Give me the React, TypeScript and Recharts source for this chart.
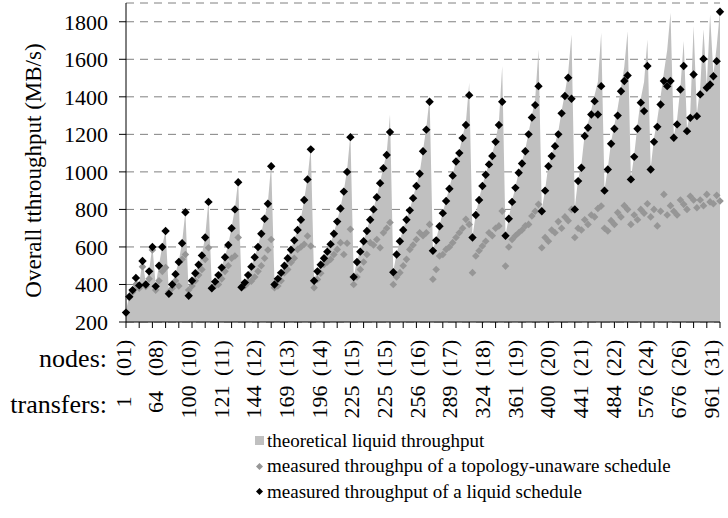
import React from "react";
import { ComposedChart, Area, Line, XAxis, YAxis, CartesianGrid } from "recharts";

const FONT = "Liberation Serif, Tinos, Times New Roman, DejaVu Serif, serif";

// one label every 10 categories
const nodeLabels = [
  "(01)", "(08)", "(10)", "(11)", "(12)", "(13)", "(14)", "(15)", "(15)", "(16)",
  "(17)", "(18)", "(19)", "(20)", "(21)", "(22)", "(24)", "(26)", "(31)",
];
const transferLabels = [
  "1", "64", "100", "121", "144", "169", "196", "225", "225", "256",
  "289", "324", "361", "400", "441", "484", "576", "676", "961",
];

const theoretical = [
  260, 340, 375, 440, 400, 530, 405, 475, 605, 395, 505, 605, 690,
  355, 405, 460, 525, 625, 790, 345, 425, 465, 510, 560, 655, 850,
  385, 420, 455, 495, 550, 615, 705, 805, 955,
  390, 415, 455, 500, 550, 605, 675, 755, 840, 1040,
  405, 435, 467, 505, 545, 590, 640, 695, 750, 855, 965, 1130,
  425, 475, 510, 545, 580, 620, 675, 740, 810, 900, 1010, 1200,
  445, 525, 580, 635, 690, 750, 805, 870, 945, 1025, 1100, 1306,
  470, 565, 635, 695, 750, 800, 865, 930, 995, 1115, 1235, 1395,
  585, 640, 715, 785, 850, 915, 985, 1060, 1110, 1190, 1265, 1475,
  655, 775, 855, 930, 990, 1045, 1095, 1170, 1265, 1564,
  665, 755, 845, 920, 1000, 1055, 1120, 1210, 1300, 1390, 1652,
  800, 905, 1035, 1095, 1150, 1215, 1325, 1420, 1530, 1732,
  810, 960, 1040, 1200, 1260, 1330, 1410, 1480, 1741,
  905, 1020, 1160, 1250, 1340, 1450, 1560, 1750,
  965, 1090, 1250, 1390, 1480, 1706,
  1020, 1180, 1280, 1400, 1530, 1650, 1848,
  1190, 1280, 1450, 1697,
  1230, 1320, 1777,
  1310, 1450, 1760,
  1460, 1840,
  1520, 1670, 1860,
];

const unaware = [
  250, 330, 360, 400, 380, 495, 390, 430, 584, 370, 420, 470, 490,
  360, 380, 420, 392, 534, 560, 370, 392, 420, 450, 480, 534, 596,
  380, 392, 400, 430, 470, 500, 540, 552, 650,
  385, 392, 410, 418, 440, 470, 500, 540, 584, 640,
  383, 392, 420, 463, 480, 517, 540, 587, 600, 614, 658, 605,
  383, 427, 460, 507, 520, 534, 560, 587, 623, 560, 620, 694,
  400, 440, 480, 520, 560, 623, 610, 640, 596, 676, 700, 730,
  400, 440, 463, 500, 534, 587, 610, 640, 676, 660, 676, 720,
  428, 480, 552, 560, 587, 600, 623, 650, 676, 700, 747, 720,
  463, 552, 580, 605, 630, 676, 660, 700, 712, 791,
  498, 600, 640, 660, 676, 690, 712, 720, 765, 790, 827,
  596, 650, 630, 690, 676, 735, 700, 760, 740, 800,
  650, 700, 690, 745, 720, 770, 760, 805, 818,
  700, 685, 740, 720, 783, 760, 820, 800,
  720, 770, 745, 800, 780, 830,
  760, 800, 712, 790, 880, 770, 820,
  790, 770, 850, 827,
  800, 870, 850,
  809, 850, 820,
  880, 840,
  830, 875, 845,
];

const liquid = [
  250, 335, 370, 435, 395, 525, 400, 470, 600, 390, 500, 600, 685,
  350, 400, 455, 520, 620, 785, 340, 420, 460, 505, 555, 650, 840,
  380, 415, 450, 490, 545, 610, 700, 800, 945,
  385, 410, 450, 495, 545, 600, 670, 750, 830, 1030,
  400, 430, 462, 500, 540, 585, 635, 690, 745, 850, 960, 1120,
  420, 470, 505, 540, 575, 615, 670, 735, 805, 895, 1000, 1185,
  440, 520, 575, 630, 685, 745, 800, 865, 940, 1020, 1090, 1212,
  465, 560, 630, 690, 745, 795, 860, 925, 990, 1110, 1225, 1374,
  580, 635, 710, 780, 845, 910, 980, 1055, 1100, 1180, 1250, 1409,
  650, 770, 850, 925, 985, 1040, 1085, 1160, 1250, 1374,
  660, 750, 840, 915, 995, 1045, 1110, 1200, 1290, 1356, 1457,
  790, 900, 1030, 1084, 1137, 1200, 1312, 1404, 1502, 1390,
  800, 951, 1022, 1191, 1235, 1306, 1377, 1306, 1457,
  900, 1013, 1150, 1230, 1300, 1430, 1484, 1514,
  960, 1080, 1230, 1369, 1324, 1564,
  1013, 1160, 1240, 1359, 1484, 1457, 1484,
  1182, 1253, 1439, 1564,
  1217, 1288, 1519,
  1297, 1413, 1602,
  1448, 1466,
  1510, 1590, 1853,
];

const data = theoretical.map((t, i) => ({
  i,
  theoretical: t,
  unaware: unaware[i],
  liquid: liquid[i],
}));

const lastIndex = data.length - 1;
const xTicks: number[] = [];
for (let i = 0; i <= lastIndex; i++) {
  if (i % 4 === 0 || i % 10 === 0) xTicks.push(i);
}

function diamond(color: string, r: number) {
  return (props: any) => {
    const { cx, cy, index } = props;
    if (cx == null || cy == null) return <g key={index} />;
    return (
      <path
        key={index}
        d={`M${cx},${cy - r}L${cx + r},${cy}L${cx},${cy + r}L${cx - r},${cy}Z`}
        fill={color}
      />
    );
  };
}

function CategoryTick(props: any) {
  const { x, y, payload } = props;
  const v = payload.value;
  const k = v / 10;
  // labels sit slightly left of their category, more so towards the right end
  const lx = x - 2 - (6 * v) / lastIndex;
  const txt = { fontFamily: FONT, fontSize: 22, fill: "#000" };
  return (
    <g>
      {v % 4 === 0 && <line x1={x} x2={x} y1={y} y2={y + 6} stroke="#000" />}
      {v % 10 === 0 && (
        <>
          <text transform={`translate(${lx},${y + 36}) rotate(-90)`} textAnchor="middle" dy="0.3em" {...txt}>
            {nodeLabels[k]}
          </text>
          <text transform={`translate(${lx},${y + 80}) rotate(-90)`} textAnchor="middle" dy="0.3em" {...txt}>
            {transferLabels[k]}
          </text>
        </>
      )}
      {v === 0 && (
        <>
          <text x={x - 19} y={y + 36} dy="0.35em" textAnchor="end" {...txt} fontSize={26}>
            nodes:
          </text>
          <text x={x - 19} y={y + 82} dy="0.35em" textAnchor="end" {...txt} fontSize={26}>
            transfers:
          </text>
        </>
      )}
    </g>
  );
}

function AxisTitle(props: any) {
  const vb = props.viewBox;
  return (
    <text
      transform={`translate(${vb.x + 33},${vb.y + vb.height / 2 + 8}) rotate(-90)`}
      textAnchor="middle"
      dy="0.35em"
      fontFamily={FONT}
      fontSize={23}
      fill="#000"
    >
      Overall tthroughput (MB/s)
    </text>
  );
}

const legendRow: React.CSSProperties = { display: "flex", alignItems: "center", height: 25.5 };
const markerBox: React.CSSProperties = { width: 15, display: "flex", justifyContent: "center", alignItems: "center" };

export default function App() {
  return (
    <div style={{ position: "absolute", left: 0, top: 0, width: 728, height: 518, background: "#fff" }}>
      <ComposedChart width={728} height={518} data={data} margin={{ top: 3, right: 8, left: 0, bottom: 0 }}>
        <CartesianGrid vertical={false} stroke="#808080" strokeDasharray="8 6" />
        <XAxis
          dataKey="i"
          type="number"
          domain={[0, lastIndex]}
          ticks={xTicks}
          interval={0}
          height={196}
          tickSize={0}
          tickMargin={0}
          tickLine={false}
          axisLine={{ stroke: "#000" }}
          tick={<CategoryTick />}
        />
        <YAxis
          type="number"
          domain={[200, 1900]}
          ticks={[200, 400, 600, 800, 1000, 1200, 1400, 1600, 1800]}
          width={126}
          tickSize={7}
          tickMargin={11}
          axisLine={{ stroke: "#000" }}
          tickLine={{ stroke: "#000" }}
          tick={{ fontFamily: FONT, fontSize: 22, fill: "#000" }}
          label={<AxisTitle />}
        />
        <Area
          type="linear"
          dataKey="theoretical"
          fill="#c0c0c0"
          fillOpacity={1}
          stroke="none"
          dot={false}
          activeDot={false}
          isAnimationActive={false}
        />
        <Line
          dataKey="unaware"
          stroke="none"
          dot={diamond("#969696", 3.8)}
          activeDot={false}
          isAnimationActive={false}
        />
        <Line
          dataKey="liquid"
          stroke="none"
          dot={diamond("#000", 4.2)}
          activeDot={false}
          isAnimationActive={false}
        />
      </ComposedChart>
      <div
        style={{
          position: "absolute",
          left: 252,
          top: 428,
          fontFamily: FONT,
          fontSize: 19,
          color: "#000",
          whiteSpace: "nowrap",
        }}
      >
        <div style={legendRow}>
          <span style={markerBox}>
            <svg width={9} height={9}>
              <rect width={9} height={9} fill="#c0c0c0" />
            </svg>
          </span>
          theoretical liquid throughput
        </div>
        <div style={legendRow}>
          <span style={markerBox}>
            <svg width={7} height={7}>
              <path d="M3.5,0L7,3.5L3.5,7L0,3.5Z" fill="#969696" />
            </svg>
          </span>
          measured throughpu of a topology-unaware schedule
        </div>
        <div style={legendRow}>
          <span style={markerBox}>
            <svg width={7} height={7}>
              <path d="M3.5,0L7,3.5L3.5,7L0,3.5Z" fill="#000" />
            </svg>
          </span>
          measured throughput of a liquid schedule
        </div>
      </div>
    </div>
  );
}
